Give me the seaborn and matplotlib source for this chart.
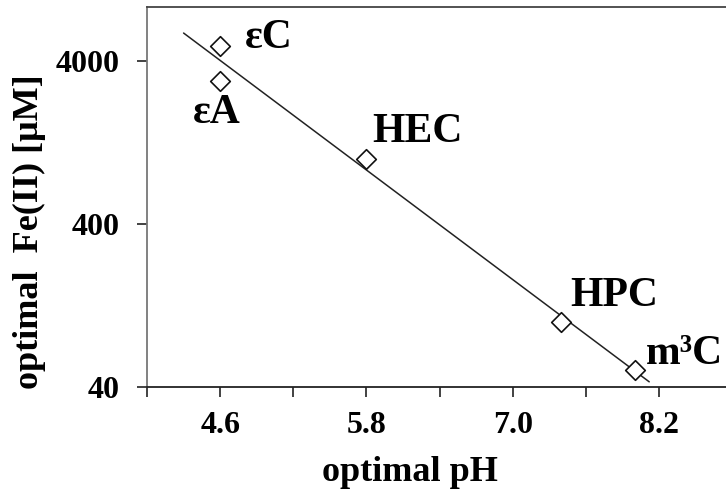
"""
Optimal Fe(II) concentration vs optimal pH for the substrates,
log scale on y with a least-squares line through log10(Fe).
"""

import numpy as np
import pandas as pd
import matplotlib
matplotlib.use('Agg')
import matplotlib.pyplot as plt
import matplotlib.ticker as mticker
import seaborn as sns

# values
substrates = ['εC', 'εA', 'HEC', 'HPC', 'm³C']
optimal_ph = [4.6, 4.6, 5.8, 7.4, 8.0]
optimal_fe = [4900, 3000, 1000, 100, 51]

# where each name sits (left edge x, vertical centre y) in data units
label_x = [4.80, 4.38, 5.85, 7.47, 8.09]
label_y = [5500, 1900, 1460, 144, 64]

x_ticks = [4.6, 5.8, 7.0, 8.2]
x_minor = [4.0, 5.2, 6.4, 7.6]
y_ticks = [40, 400, 4000]

df = pd.DataFrame({'pH': optimal_ph, 'Fe': optimal_fe, 'name': substrates})

# least-squares fit in log space, as the trend line
slope, intercept = np.polyfit(df['pH'], np.log10(df['Fe']), 1)
fit_x = np.array([4.3, 8.12])
fit_df = pd.DataFrame({'pH': fit_x, 'Fe': 10 ** (intercept + slope * fit_x)})

sns.set_theme(style='ticks')
plt.rcParams['font.family'] = ['Liberation Serif', 'DejaVu Serif']
plt.rcParams['font.weight'] = 'bold'
plt.rcParams['text.color'] = 'black'
plt.rcParams['axes.labelcolor'] = 'black'
plt.rcParams['xtick.labelcolor'] = 'black'
plt.rcParams['ytick.labelcolor'] = 'black'

fig = plt.figure(figsize=(7.26, 5.04), dpi=100)
ax = fig.add_axes([0.2025, 0.232, 0.7975, 0.754])

sns.lineplot(data=fit_df, x='pH', y='Fe', ax=ax, color='#222222', linewidth=1.1)
sns.scatterplot(data=df, x='pH', y='Fe', ax=ax, marker='D', s=100,
                facecolor='white', edgecolor='#111111', linewidth=1.2, zorder=3)

for name, tx, ty in zip(substrates, label_x, label_y):
    ax.text(tx, ty, name, ha='left', va='center', fontsize=30,
            fontweight='bold', color='black')

ax.set_yscale('log')
ax.set_xlim(4.0, 8.75)
ax.set_ylim(40, 8500)

ax.set_xticks(x_ticks)
ax.set_xticklabels([f'{t:.1f}' for t in x_ticks])
ax.set_xticks(x_minor, minor=True)
ax.set_yticks(y_ticks)
ax.yaxis.set_major_formatter(mticker.FixedFormatter([str(t) for t in y_ticks]))
ax.yaxis.set_minor_locator(mticker.NullLocator())

ax.tick_params(axis='x', which='both', direction='out', length=7, width=1.2,
               color='#222222', pad=10, labelsize=23)
ax.tick_params(axis='y', which='major', direction='out', length=7, width=1.2,
               color='#222222', pad=13, labelsize=23)

ax.set_xlabel('optimal pH', fontsize=26, fontweight='bold', va='center')
ax.set_ylabel('optimal  Fe(II) [μM]', fontsize=26, fontweight='bold', va='center')
# labels sit off-centre in the original
ax.xaxis.set_label_coords(0.454, -0.224)
ax.yaxis.set_label_coords(-0.203, 0.408)

ax.spines['right'].set_visible(False)
ax.spines['left'].set_color('#777777')
ax.spines['top'].set_color('#444444')
ax.spines['bottom'].set_color('#222222')
for side in ['left', 'top', 'bottom']:
    ax.spines[side].set_linewidth(1.3)

fig.savefig('out.png', dpi=100)
